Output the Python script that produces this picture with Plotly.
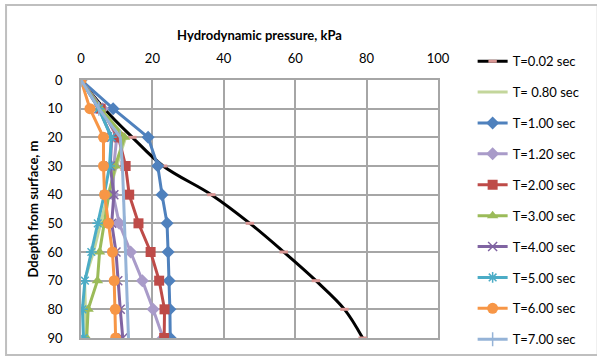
import plotly.graph_objects as go

depth = [0, 10, 20, 30, 40, 50, 60, 70, 80, 90]

t002 = [0, 6.5, 14.4, 23.0, 36.5, 47.3, 56.8, 65.8, 73.8, 78.9]
t080 = [0, 5.5, 12.5, 10.0, 7.5, 5.5, 3.5, 1.0, 1.2, 1.5]
t100 = [0, 9.0, 18.8, 21.5, 22.7, 24.1, 24.4, 24.7, 24.9, 25.0]
t120 = [0, 6.0, 10.0, 9.2, 9.0, 10.7, 13.9, 17.2, 20.2, 23.0]
t200 = [0, 5.5, 10.5, 12.5, 13.5, 16.1, 19.5, 21.9, 23.4, 23.3]
t300 = [0, 5.5, 12.2, 9.6, 7.8, 6.6, 5.2, 4.6, 2.0, 1.6]
t400 = [0, 5.0, 8.6, 8.2, 9.2, 8.6, 9.8, 10.3, 11.0, 11.7]
t500 = [0, 5.0, 8.5, 8.0, 6.5, 4.7, 2.9, 1.1, 0.4, 0.7]
t600 = [0, 2.5, 6.3, 6.3, 6.6, 7.7, 8.8, 9.3, 9.6, 9.7]
t700 = [0, 5.0, 11.0, 11.6, 11.9, 12.2, 12.5, 12.8, 13.1, 13.3]

series = [
    ("T=0.02 sec", t002, "#000000"),
    ("T= 0.80 sec", t080, "#c3d69b"),
    ("T=1.00 sec", t100, "#4f81bd"),
    ("T=1.20 sec", t120, "#a99bc9"),
    ("T=2.00 sec", t200, "#be4b48"),
    ("T=3.00 sec", t300, "#9bbb59"),
    ("T=4.00 sec", t400, "#8064a2"),
    ("T=5.00 sec", t500, "#4bacc6"),
    ("T=6.00 sec", t600, "#f79646"),
    ("T=7.00 sec", t700, "#95b3d7"),
]

markers = {
    "T=0.02 sec": dict(symbol="line-ew", size=6, color="#d99694", line=dict(color="#d99694", width=3)),
    "T= 0.80 sec": dict(size=1, opacity=0),
    "T=1.00 sec": dict(symbol="diamond", size=10, color="#4f81bd"),
    "T=1.20 sec": dict(symbol="diamond", size=10, color="#a99bc9"),
    "T=2.00 sec": dict(symbol="square", size=10, color="#be4b48"),
    "T=3.00 sec": dict(symbol="triangle-up", size=10, color="#9bbb59"),
    "T=4.00 sec": dict(symbol="x-thin", size=9, color="#8064a2", line=dict(color="#8064a2", width=1.5)),
    "T=5.00 sec": dict(symbol="asterisk", size=9, color="#4bacc6", line=dict(color="#4bacc6", width=1.5)),
    "T=6.00 sec": dict(symbol="circle", size=11, color="#f79646"),
    "T=7.00 sec": dict(symbol="line-ns", size=10, color="#95b3d7", line=dict(color="#95b3d7", width=1.5)),
}

fig = go.Figure()
for name, vals, col in series:
    fig.add_trace(go.Scatter(
        x=vals, y=depth, name=name, legendgroup=name,
        mode="lines" if name == "T= 0.80 sec" else "lines+markers",
        line=dict(color=col, width=3, shape="spline" if name == "T=0.02 sec" else "linear"),
        marker=markers[name],
    ))

font = "Lato, 'Open Sans', sans-serif"
fig.update_layout(
    width=597, height=357,
    margin=dict(l=81, r=154, t=80, b=19),
    paper_bgcolor="white", plot_bgcolor="white",
    font=dict(family=font, size=13, color="#000000"),
    showlegend=True,
    legend=dict(x=1.097, y=1.131, xanchor="left", yanchor="top",
                tracegroupgap=11, font=dict(size=13), itemwidth=30,
                maxheight=400, bgcolor="rgba(0,0,0,0)"),
    xaxis=dict(side="top", range=[0, 100], dtick=20, showgrid=True,
               gridcolor="#a6a6a6", gridwidth=1.5, zeroline=False,
               showline=True, linecolor="#a6a6a6", linewidth=1.5, mirror=True,
               ticks="", ticklabelstandoff=10,
               title=dict(text="<b>Hydrodynamic pressure, kPa</b>", standoff=6,
                          font=dict(size=13))),
    yaxis=dict(range=[90, 0], dtick=10, showgrid=True,
               gridcolor="#a6a6a6", gridwidth=1.5, zeroline=False,
               showline=True, linecolor="#a6a6a6", linewidth=1.5, mirror=True,
               ticks="", ticklabelstandoff=14,
               title=dict(text="<b>Ddepth from surface, m</b>", standoff=6,
                          font=dict(size=13))),
)

fig.add_shape(type="rect", xref="paper", yref="paper",
              x0=(5 - 81) / 362, x1=(605 - 81) / 362,
              y0=(338 - 355) / 258, y1=(338 - 5) / 258,
              line=dict(color="#bfbfbf", width=2), layer="below")

fig.write_html("out.html")
